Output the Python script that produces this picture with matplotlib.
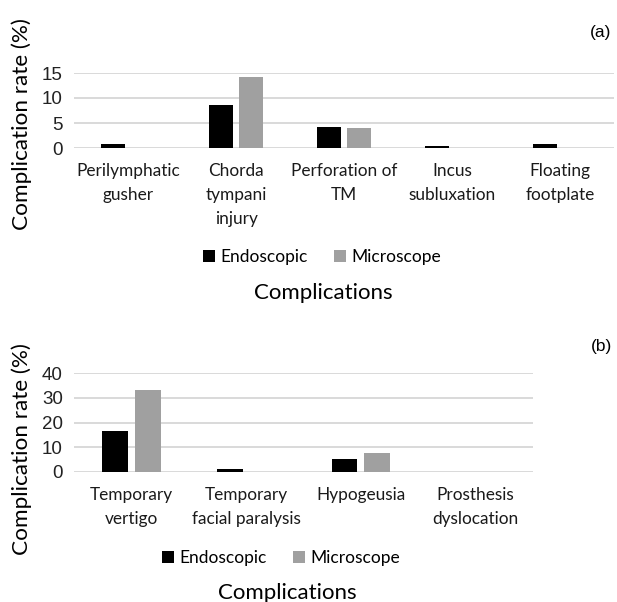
import matplotlib
matplotlib.use("Agg")
from matplotlib import pyplot as plt
import numpy as np

# panel (a): intraoperative complications
cats_a = ["Perilymphatic\ngusher", "Chorda\ntympani\ninjury", "Perforation of\nTM",
          "Incus\nsubluxation", "Floating\nfootplate"]
endo_a = [0.8, 8.6, 4.2, 0.5, 0.8]
micro_a = [0.0, 14.3, 4.0, 0.0, 0.0]
yticks_a = [0, 5, 10, 15]

# panel (b): postoperative complications
cats_b = ["Temporary\nvertigo", "Temporary\nfacial paralysis", "Hypogeusia",
          "Prosthesis\ndyslocation"]
endo_b = [16.7, 1.2, 5.1, 0.0]
micro_b = [33.3, 0.0, 7.7, 0.0]
yticks_b = [0, 10, 20, 30, 40]

series = ["Endoscopic", "Microscope"]
colors = ["#000000", "#a0a0a0"]

W, H = 617, 602
fig = plt.figure(figsize=(W / 100, H / 100), dpi=100)

txt_font = "Lato"
num_font = "Liberation Sans"


def px_axes(l, r, t, b):
	return fig.add_axes([l / W, 1 - b / H, (r - l) / W, (b - t) / H])


def draw_panel(ax, cats, endo, micro, yticks):
	x = np.arange(len(cats))
	bw = 0.225
	off = 0.142
	b1 = ax.bar(x - off, endo, bw, color=colors[0], label=series[0], zorder=3)
	b2 = ax.bar(x + off, micro, bw, color=colors[1], label=series[1], zorder=3)
	ax.set_xlim(-0.5, len(cats) - 0.5)
	ax.set_ylim(0, yticks[-1])
	ax.set_yticks(yticks)
	ax.grid(axis="y", color="#d9d9d9", linewidth=1.4, zorder=0)
	for s in ax.spines.values():
		s.set_visible(False)
	ax.set_xticks(x)
	ax.set_xticklabels(cats, fontfamily=txt_font, fontsize=12.4, linespacing=1.6,
		color="#1a1a1a")
	ax.tick_params(axis="x", length=0, pad=11)
	ax.tick_params(axis="y", length=0, pad=8)
	for t in ax.get_yticklabels():
		t.set_fontfamily(num_font)
		t.set_fontsize(13.5)
		t.set_color("#222222")
	return b1, b2


ax1 = px_axes(74, 614, 73, 148)
h1 = draw_panel(ax1, cats_a, endo_a, micro_a, yticks_a)
ax2 = px_axes(74, 533, 373, 472)
h2 = draw_panel(ax2, cats_b, endo_b, micro_b, yticks_b)

for h, cx, cy in [(h1, 322, 257), (h2, 281, 558)]:
	fig.legend(h, series, loc="center", bbox_to_anchor=(cx / W, 1 - cy / H), ncol=2,
		frameon=False, prop={"family": txt_font, "size": 12.5}, handlelength=0.7,
		handleheight=0.7, handletextpad=0.3, columnspacing=1.5)

for cx, cy in [(323, 293), (287, 593)]:
	fig.text(cx / W, 1 - cy / H, "Complications", ha="center", va="center",
		fontfamily=txt_font, fontsize=16)

for cy in [124, 449]:
	fig.text(22 / W, 1 - cy / H, "Complication rate (%)", ha="center", va="center",
		rotation=90, fontfamily=txt_font, fontsize=16.2)

for lab, cy in [("(a)", 33), ("(b)", 347)]:
	fig.text(601 / W, 1 - cy / H, lab, ha="center", va="center",
		fontfamily=num_font, fontsize=12.5)

plt.savefig("out.png", dpi=100)
plt.close()
